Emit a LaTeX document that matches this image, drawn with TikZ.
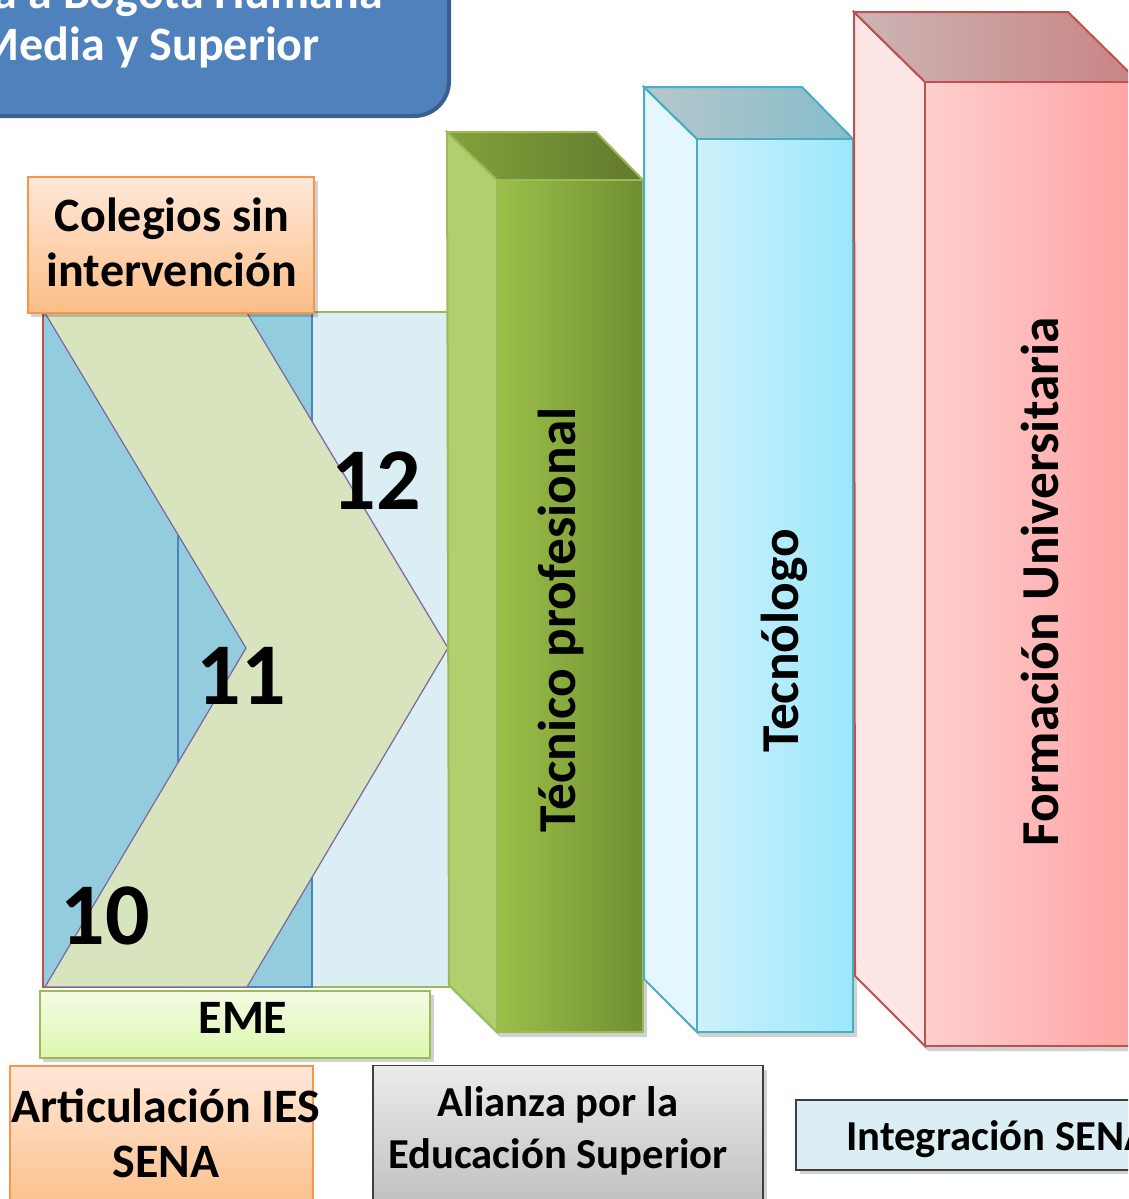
\documentclass[tikz,border=0pt]{standalone}
\usepackage{fontspec}
\setmainfont{Carlito}
\definecolor{titlefill}{HTML}{4F81BD}
\definecolor{titleline}{HTML}{3B5E8C}
\definecolor{orline}{HTML}{F79646}
\definecolor{ortop}{HTML}{FFE8DA}
\definecolor{orbot}{HTML}{FCBE86}
\definecolor{colblue}{HTML}{93CDDD}
\definecolor{collight}{HTML}{DAEEF3}
\definecolor{redline}{HTML}{C0504D}
\definecolor{blueline}{HTML}{4F81BD}
\definecolor{greenline}{HTML}{9BBB59}
\definecolor{chevfill}{HTML}{D7E4BD}
\definecolor{chevline}{HTML}{8064A2}
\definecolor{emetop}{HTML}{F4FBE6}
\definecolor{emebot}{HTML}{DDF8AE}
\definecolor{graytop}{HTML}{EBEBEB}
\definecolor{graybot}{HTML}{BEBEBE}
\definecolor{grayline}{HTML}{3F3F3F}
\definecolor{gside}{HTML}{B1CF6E}
\definecolor{gfrontL}{HTML}{9CC049}
\definecolor{gfrontR}{HTML}{6F8F31}
\definecolor{gtopL}{HTML}{82A23C}
\definecolor{gtopR}{HTML}{62792C}
\definecolor{cline}{HTML}{4BACC6}
\definecolor{cside}{HTML}{E3F7FD}
\definecolor{cfrontL}{HTML}{CCF1FB}
\definecolor{cfrontR}{HTML}{9DE7FB}
\definecolor{ctopL}{HTML}{B6C7CC}
\definecolor{ctopR}{HTML}{85BDCB}
\definecolor{rside}{HTML}{FEE6E6}
\definecolor{rfrontL}{HTML}{FECFCF}
\definecolor{rfrontR}{HTML}{FFA2A2}
\definecolor{rtopL}{HTML}{CDB5B5}
\definecolor{rtopR}{HTML}{C98383}
\tikzset{
  lbl/.style={font=\bfseries\fontsize{36}{41}\selectfont, align=center, inner sep=0pt},
  slbl/.style={font=\bfseries\fontsize{32}{39}\selectfont, align=center, inner sep=0pt},
  vlbl/.style={font=\bfseries\fontsize{40}{44}\selectfont, inner sep=0pt, rotate=90},
  num/.style={font=\bfseries\fontsize{66}{70}\selectfont, inner sep=0pt},
  wlbl/.style={lbl, text=white},
  orbox/.style={draw=orline, line width=1.6pt, top color=ortop, bottom color=orbot, inner sep=0pt},
  shadowfill/.style={fill=black, opacity=0.18}
}
\begin{document}
\begin{tikzpicture}[x=0.75pt,y=-0.75pt]
\useasboundingbox (0,0) rectangle (1128,1199);
\clip (0,0) rectangle (1128,1199);

% title box
\draw[fill=titlefill, draw=titleline, line width=3pt, rounded corners=26pt] (-60,-60) rectangle (449,116);
\node[wlbl, anchor=base east] (t1) at (383,8) {a a Bogotá Humana};
\node[wlbl, anchor=base east] (t2) at (320,60) {Media y Superior};

% grade columns
\draw[fill=collight, draw=greenline, line width=1.5pt] (312,312) rectangle (450,987);
\draw[fill=colblue, draw=redline, line width=1.8pt] (43,313) rectangle (178,987);
\draw[fill=colblue, draw=blueline, line width=1.8pt] (178,313) rectangle (312,987);

% chevron
\draw[fill=chevfill, draw=chevline, line width=0.9pt]
  (45,313) -- (247,313) -- (448,648) -- (247,987) -- (45,987) -- (246,648) -- cycle;

\node[num] (n12) at (376,481) {12};
\node[num] (n11) at (241,676) {11};
\node[num] (n10) at (105,916) {10};

% Colegios sin intervencion
\fill[shadowfill] (31,181) rectangle (318,317);
\node[orbox, minimum width=214.5pt, minimum height=102pt] (cbox) at (171,245) {};
\node[lbl] (ctext) at (172,242) {Colegios sin\\intervención};

% green 3D box
\fill[shadowfill] (452,990) -- (500,1037) -- (647,1037) -- (647,185) -- (500,185) -- cycle;
\fill[gside, draw=greenline, line width=1.5pt] (447,132) -- (497,180) -- (497,1032) -- (449,985) -- cycle;
\shade[left color=gtopL, right color=gtopR, draw=greenline, line width=1.5pt] (447,132) -- (596,132) -- (643,180) -- (497,180) -- cycle;
\shade[left color=gfrontL, right color=gfrontR, draw=greenline, line width=1.5pt] (497,180) rectangle (643,1032);
\node[vlbl] (tp) at (561,620) {Técnico profesional};

% cyan 3D box
\fill[shadowfill] (647,983) -- (700,1037) -- (857,1037) -- (857,143) -- cycle;
\fill[cside, draw=cline, line width=1.5pt] (644,87) -- (697,139) -- (697,1032) -- (644,979) -- cycle;
\shade[left color=ctopL, right color=ctopR, draw=cline, line width=1.5pt] (644,87) -- (802,87) -- (853,139) -- (697,139) -- cycle;
\shade[left color=cfrontL, right color=cfrontR, draw=cline, line width=1.5pt] (697,139) rectangle (853,1032);
\node[vlbl] (tec) at (784,641) {Tecnólogo};

% red 3D box
\fill[shadowfill] (858,980) -- (928,1051) -- (1150,1051) -- (1150,88) -- cycle;
\fill[rside, draw=redline, line width=1.5pt] (854,12) -- (925,82) -- (925,1046) -- (855,976) -- cycle;
\shade[left color=rtopL, right color=rtopR, draw=redline, line width=1.5pt] (854,12) -- (1068,12) -- (1139,82) -- (925,82) -- cycle;
\shade[left color=rfrontL, right color=rfrontR, draw=redline, line width=1.5pt] (925,82) rectangle (1139,1046);
\node[vlbl] (fu) at (1040,582) {Formación Universitaria};

% EME
\fill[shadowfill] (43,995) rectangle (434,1062);
\node[draw=greenline, line width=1.5pt, top color=emetop, bottom color=emebot, minimum width=292.5pt, minimum height=50pt, inner sep=0pt] (emebox) at (235,1024.5) {};
\node[lbl] (eme) at (243,1018) {EME};

% Articulacion IES SENA
\node[orbox, minimum width=227pt, minimum height=110pt] (abox) at (161.5,1139) {};
\node[lbl] (atext) at (166,1133) {Articulación IES\\SENA};

% Alianza
\fill[shadowfill] (377,1070) rectangle (767,1215);
\node[draw=grayline, line width=1.2pt, top color=graytop, bottom color=graybot, minimum width=292.5pt, minimum height=110pt, inner sep=0pt] (albox) at (568,1139) {};
\node[slbl] (altext) at (558,1131) {Alianza por la\\Educación Superior};

% Integracion SENA
\fill[shadowfill] (800,1104) rectangle (1150,1174);
\node[draw=grayline, line width=1.2pt, fill=collight, minimum width=258pt, minimum height=52.5pt, inner sep=0pt] (ibox) at (968,1135) {};
\node[slbl, anchor=base west] (itext) at (846,1150) {Integración SENA};
\end{tikzpicture}
\end{document}
